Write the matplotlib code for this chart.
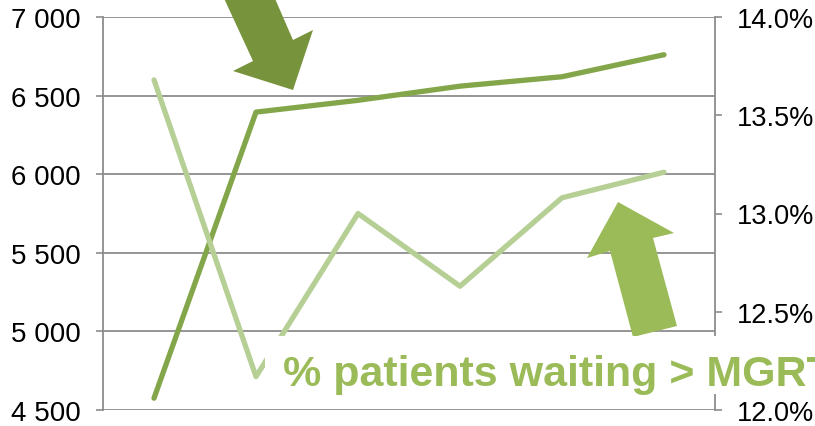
import matplotlib
matplotlib.use("Agg")
import matplotlib.pyplot as plt
from matplotlib.patches import Polygon
from matplotlib.ticker import FuncFormatter, FixedLocator

plt.rcParams["font.family"] = ["Liberation Sans", "DejaVu Sans"]

# data
periods = [0, 1, 2, 3, 4, 5]
patients = [4575, 6395, 6470, 6560, 6620, 6760]           # left axis
pct_waiting = [13.68, 12.17, 13.00, 12.63, 13.08, 13.21]  # right axis, %
left_ticks = [4500, 5000, 5500, 6000, 6500, 7000]
right_ticks = [12.0, 12.5, 13.0, 13.5, 14.0]
label_text = "% patients waiting > MGRT"

DARK = "#84A64A"
LIGHT = "#B6CF95"
ARROW_DARK = "#77933C"
ARROW_LIGHT = "#9BBB59"
GRID = "#8C8C8C"

W, H = 815, 427
fig = plt.figure(figsize=(W / 100, H / 100), dpi=100)
fig.patch.set_facecolor("white")
ax = fig.add_axes([103 / W, 16 / H, 612 / W, 393 / H])
ax2 = ax.twinx()

ax.plot(periods, patients, color=DARK, lw=3.8, solid_capstyle="round", zorder=3)
ax2.plot(periods, pct_waiting, color=LIGHT, lw=3.8, solid_capstyle="round", zorder=3)

ax.set_xlim(-0.5, 5.5)
ax.set_ylim(4500, 7000)
ax2.set_ylim(12.0, 14.0)
ax.set_xticks([])
ax.yaxis.set_major_locator(FixedLocator(left_ticks))
ax2.yaxis.set_major_locator(FixedLocator(right_ticks))
ax.yaxis.set_major_formatter(FuncFormatter(lambda v, p: f"{int(v):,}".replace(",", " ")))
ax2.yaxis.set_major_formatter(FuncFormatter(lambda v, p: f"{v:.1f}%"))
ax.grid(axis="y", color=GRID, lw=1.3, zorder=0)
ax.set_axisbelow(True)

for a in (ax, ax2):
    for s in ("top", "bottom"):
        a.spines[s].set_visible(False)
    a.tick_params(axis="y", length=5, width=1.2, color=GRID, labelsize=20, pad=11)
ax2.tick_params(axis="y", labelsize=19.5, pad=10.5)
for s in ("left", "right"):
    ax2.spines[s].set_color(GRID)
    ax2.spines[s].set_linewidth(1.3)
ax.spines["left"].set_visible(False)
ax.spines["right"].set_visible(False)

# arrows (figure pixel coords, y from top)
def px(pts):
    return [(x / W, 1 - y / H) for x, y in pts]

dark_arrow = [(222, -5), (253, 62), (233, 72), (293, 91), (313, 31), (293, 41), (273, -5)]
light_arrow = [(633, 338), (610, 252), (587, 259), (618, 203), (674, 234), (653, 239), (677, 327)]
fig.patches.append(Polygon(px(dark_arrow), closed=True, transform=fig.transFigure,
                           facecolor=ARROW_DARK, edgecolor="none", zorder=5))
fig.patches.append(Polygon(px(light_arrow), closed=True, transform=fig.transFigure,
                           facecolor=ARROW_LIGHT, edgecolor="none", zorder=5))

# label box
fig.patches.append(Polygon(px([(265, 337), (830, 337), (830, 395), (265, 395)]), closed=True,
                           transform=fig.transFigure, facecolor="white", edgecolor="none", zorder=6))
fig.text(283 / W, 1 - 386 / H, label_text, color=ARROW_LIGHT, fontsize=31,
         fontweight="bold", ha="left", va="baseline", zorder=7)

fig.savefig("out.png", dpi=100, facecolor="white")
